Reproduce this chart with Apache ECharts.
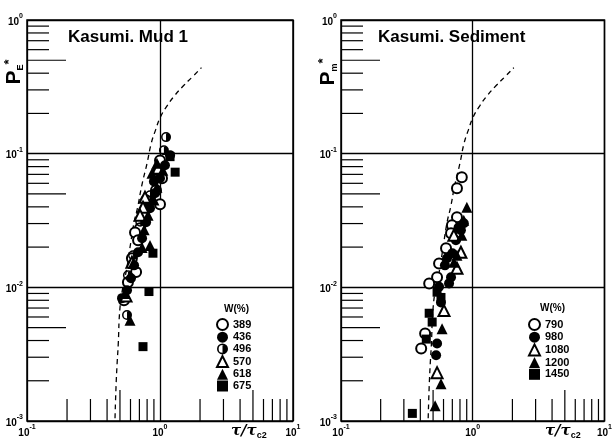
<!DOCTYPE html>
<html>
<head>
<meta charset="utf-8">
<script src="https://cdn.jsdelivr.net/npm/echarts@6/dist/echarts.min.js"></script>
<style>
  html, body { margin: 0; padding: 0; background: #fff; }
  #chart { width: 615px; height: 441px; }
</style>
</head>
<body>
<div id="chart"></div>
<script>
// minor tick positions (2..9 in each decade)
const xMinor = [0.2, 0.3, 0.4, 0.5, 0.6, 0.7, 0.8, 0.9, 2, 3, 4, 5, 6, 7, 8, 9];
const yMinor = [0.002, 0.003, 0.004, 0.005, 0.006, 0.007, 0.008, 0.009,
                0.02, 0.03, 0.04, 0.05, 0.06, 0.07, 0.08, 0.09,
                0.2, 0.3, 0.4, 0.5, 0.6, 0.7, 0.8, 0.9];

// dashed reference curve (same in both panels)
const curve = [[0.459, 0.00105], [0.467, 0.0018], [0.476, 0.0027], [0.485, 0.0037], [0.500, 0.0070],
               [0.53, 0.0105], [0.56, 0.0135], [0.60, 0.021], [0.64, 0.031], [0.68, 0.040],
               [0.73, 0.058], [0.80, 0.085], [0.86, 0.120], [0.93, 0.152], [1.0, 0.185],
               [1.13, 0.228], [1.3, 0.275], [1.5, 0.322], [1.75, 0.375], [2.05, 0.44]];

// Kasumi, Mud 1  — W(%)
const mudNames = ['389', '436', '496', '570', '618', '675'];
const mud389 = [[1.00, 0.089], [1.035, 0.0655], [0.933, 0.0533], [1.00, 0.0419], [0.786, 0.0449], [0.708, 0.0277],
                [0.649, 0.0257], [0.684, 0.0225], [0.615, 0.0165], [0.661, 0.0130], [0.574, 0.0109], [0.536, 0.0080]];
const mud436 = [[0.518, 0.0083], [0.565, 0.0095], [0.605, 0.0117], [0.638, 0.0146], [0.684, 0.0183], [0.733, 0.0233],
                [0.786, 0.0307], [0.841, 0.0391], [0.917, 0.0506], [1.00, 0.0655], [1.09, 0.082], [1.19, 0.0975],
                [0.90, 0.062], [0.80, 0.040], [0.95, 0.075]];
const mud496 = [[1.11, 0.133], [1.07, 0.106], [0.966, 0.0752], [0.841, 0.0489], [0.71, 0.031], [0.627, 0.0174],
                [0.574, 0.0123], [0.565, 0.0062]];
const mud570 = [[0.966, 0.0778], [0.771, 0.0472], [0.745, 0.0397], [0.708, 0.0346], [0.615, 0.0154], [0.555, 0.0086]];
const mud618 = [[0.948, 0.0849], [0.871, 0.0715], [0.948, 0.0561], [0.813, 0.0346], [0.733, 0.0199], [0.841, 0.0206],
                [0.627, 0.0151], [0.545, 0.0090], [0.595, 0.00566], [0.90, 0.045], [1.05, 0.075], [0.76, 0.027]];
const mud675 = [[1.19, 0.095], [1.30, 0.0727], [0.885, 0.018], [0.826, 0.0093], [0.745, 0.0036]];

// Kasumi, Sediment — W(%)
const sedNames = ['790', '980', '1080', '1200', '1450'];
const sed790 = [[0.826, 0.0667], [0.759, 0.0552], [0.759, 0.0334], [0.695, 0.0291], [0.684, 0.0254], [0.627, 0.0196],
                [0.555, 0.0151], [0.536, 0.0119], [0.467, 0.0107], [0.435, 0.00452], [0.406, 0.00349]];
const sed980 = [[0.527, 0.0031], [0.536, 0.0038], [0.574, 0.0077], [0.555, 0.0101], [0.661, 0.0107], [0.684, 0.0119],
                [0.615, 0.0146], [0.638, 0.0165], [0.745, 0.0225], [0.813, 0.0267], [0.855, 0.0302], [0.70, 0.018], [0.78, 0.028]];
const sed1080 = [[0.813, 0.0183], [0.759, 0.0139], [0.605, 0.0067], [0.536, 0.0023], [0.719, 0.0245]];
const sed1200 = [[0.902, 0.0397], [0.855, 0.0318], [0.826, 0.0245], [0.759, 0.0174], [0.719, 0.0154], [0.585, 0.0049],
                 [0.574, 0.0019], [0.518, 0.0013]];
const sed1450 = [[0.467, 0.0064], [0.492, 0.0055], [0.444, 0.0041], [0.348, 0.00114], [0.536, 0.0092], [0.574, 0.0084]];

const FONT = '"Liberation Sans", Arial, sans-serif';
// open circle with the right half filled
const halfCircle = 'path://M10,0A10,10 0 1,1 10,20A10,10 0 1,1 10,0Z M10,3A7,7 0 1,0 10,17A7,7 0 1,0 10,3Z M10,0A10,10 0 0,1 10,20Z';

const chart = echarts.init(document.getElementById('chart'), null, { renderer: 'canvas' });

function mantissa(v) {
  return Math.round(v / Math.pow(10, Math.floor(Math.log10(v) + 1e-9)));
}

// minor ticks drawn inward from the frame
function xTickItem(params, api) {
  const p = api.coord([api.value(0), 0.001]);
  const len = mantissa(api.value(0)) === 5 ? 31 : 22;
  return { type: 'line', shape: { x1: p[0], y1: p[1], x2: p[0], y2: p[1] - len },
           style: { stroke: '#000', lineWidth: 1.2 } };
}
function yTickItem(params, api) {
  const p = api.coord([0.1, api.value(1)]);
  const len = mantissa(api.value(1)) === 5 ? 39 : 22;
  return { type: 'line', shape: { x1: p[0], y1: p[1], x2: p[0] + len, y2: p[1] },
           style: { stroke: '#000', lineWidth: 1.2 } };
}

const powLabel = {
  formatter: function (v) {
    return '{b|10}{e|' + Math.round(Math.log10(v)) + '}';
  },
  rich: {
    b: { fontSize: 10, fontWeight: 'bold', fontFamily: FONT, color: '#000', lineHeight: 14, verticalAlign: 'bottom' },
    e: { fontSize: 7, fontWeight: 'bold', fontFamily: FONT, color: '#000', lineHeight: 14, verticalAlign: 'top' }
  }
};

function makeX(gi) {
  return {
    type: 'log', logBase: 10, min: 0.1, max: 10, gridIndex: gi,
    axisLine: { show: false }, axisTick: { show: false },
    splitLine: { show: true, lineStyle: { color: '#000', width: 1.3 } },
    axisLabel: Object.assign({ margin: 3, showMinLabel: true, showMaxLabel: true }, powLabel)
  };
}
function makeY(gi) {
  return {
    type: 'log', logBase: 10, min: 0.001, max: 1, gridIndex: gi,
    axisLine: { show: false }, axisTick: { show: false },
    splitLine: { show: true, lineStyle: { color: '#000', width: 1.3 } },
    axisLabel: Object.assign({ margin: 4, showMinLabel: true, showMaxLabel: true }, powLabel)
  };
}

function scatter(name, data, gi, symbol, size) {
  const empty = symbol.indexOf('empty') === 0;
  return {
    name: name, type: 'scatter', xAxisIndex: gi, yAxisIndex: gi, data: data,
    symbol: symbol, symbolSize: size, z: 3,
    itemStyle: { color: '#000', borderColor: '#000', borderWidth: empty ? 1.4 : 0, opacity: 1 }
  };
}

function ticks(gi) {
  return [
    { type: 'custom', xAxisIndex: gi, yAxisIndex: gi, renderItem: xTickItem, clip: false, silent: true,
      data: xMinor.map(v => [v, 0.001]), z: 2 },
    { type: 'custom', xAxisIndex: gi, yAxisIndex: gi, renderItem: yTickItem, clip: false, silent: true,
      data: yMinor.map(v => [0.1, v]), z: 2 }
  ];
}

function curveSeries(gi) {
  return {
    type: 'line', xAxisIndex: gi, yAxisIndex: gi, data: curve, smooth: true, showSymbol: false, silent: true,
    lineStyle: { color: '#000', width: 1.3, type: [5, 4] }, z: 2
  };
}

const legendText = { fontSize: 11, fontWeight: 'bold', fontFamily: FONT, color: '#000', lineHeight: 10 };

function pLabel(x, sub) {
  return { type: 'text', x: x, y: 72, rotation: Math.PI / 2,
    style: { text: '{p|P}{s|' + sub + '}{t|*}', align: 'center', verticalAlign: 'middle',
      rich: { p: { fontSize: 21, fontWeight: 'bold', fontFamily: FONT, fill: '#000', verticalAlign: 'middle', lineHeight: 22 },
              s: { fontSize: 9, fontWeight: 'bold', fontFamily: FONT, fill: '#000', verticalAlign: 'bottom', lineHeight: 22 },
              t: { fontSize: 13, fontWeight: 'bold', fontFamily: FONT, fill: '#000', verticalAlign: 'top', lineHeight: 22 } } } };
}
function tauLabel(left) {
  return { type: 'text', left: left, top: 424,
    style: { text: '{a|τ/τ}{b|c2}',
      rich: { a: { fontSize: 15, fontStyle: 'italic', fontWeight: 'bold', fontFamily: '"DejaVu Serif", serif', fill: '#000', lineHeight: 18, verticalAlign: 'middle' },
              b: { fontSize: 9, fontWeight: 'bold', fontFamily: FONT, fill: '#000', lineHeight: 18, verticalAlign: 'bottom' } } } };
}

const option = {
  backgroundColor: '#fff',
  animation: false,
  grid: [
    { left: 27, top: 20, width: 266, height: 401, show: true, borderColor: '#000', borderWidth: 1.5 },
    { left: 341, top: 20, width: 266, height: 401, show: true, borderColor: '#000', borderWidth: 1.5 }
  ],
  xAxis: [makeX(0), makeX(1)],
  yAxis: [makeY(0), makeY(1)],
  legend: [
    { data: mudNames, orient: 'vertical', left: 211, top: 313, itemWidth: 11, itemHeight: 11, itemGap: 0.7,
      selectedMode: false, textStyle: legendText },
    { data: sedNames, orient: 'vertical', left: 523, top: 313, itemWidth: 11, itemHeight: 11, itemGap: 0.7,
      selectedMode: false, textStyle: legendText }
  ],
  graphic: [
    { type: 'text', left: 68, top: 29, style: { text: 'Kasumi. Mud 1', font: 'bold 17px ' + FONT, fill: '#000' } },
    { type: 'text', left: 378, top: 29, style: { text: 'Kasumi. Sediment', font: 'bold 17px ' + FONT, fill: '#000' } },
    { type: 'text', left: 224, top: 304, style: { text: 'W(%)', font: 'bold 10px ' + FONT, fill: '#000' } },
    { type: 'text', left: 540, top: 303, style: { text: 'W(%)', font: 'bold 10px ' + FONT, fill: '#000' } },
    pLabel(14, 'E'), pLabel(328, 'm'),
    tauLabel(231), tauLabel(545)
  ],
  series: [
    ...ticks(0), ...ticks(1),
    curveSeries(0), curveSeries(1),
    scatter('389', mud389, 0, 'emptyCircle', 10),
    scatter('436', mud436, 0, 'circle', 10),
    scatter('496', mud496, 0, halfCircle, 10),
    scatter('570', mud570, 0, 'emptyTriangle', 11),
    scatter('618', mud618, 0, 'triangle', 11),
    scatter('675', mud675, 0, 'rect', 9),
    scatter('790', sed790, 1, 'emptyCircle', 10),
    scatter('980', sed980, 1, 'circle', 10),
    scatter('1080', sed1080, 1, 'emptyTriangle', 11),
    scatter('1200', sed1200, 1, 'triangle', 11),
    scatter('1450', sed1450, 1, 'rect', 9)
  ]
};

chart.setOption(option);
</script>
</body>
</html>
